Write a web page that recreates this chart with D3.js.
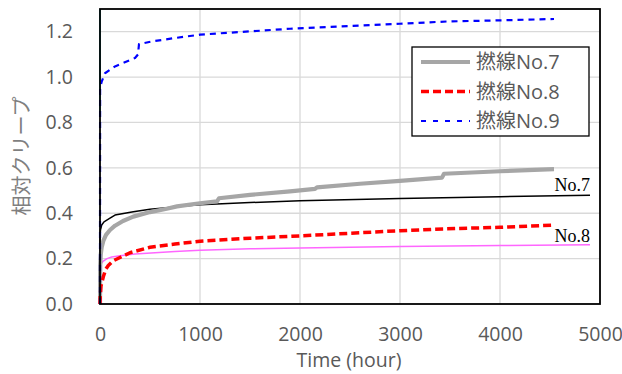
<!DOCTYPE html>
<html>
<head>
<meta charset="utf-8">
<script src="https://cdn.jsdelivr.net/npm/d3@7"></script>
<style>
  html, body { margin: 0; padding: 0; background: #fff; }
  svg { display: block; }
</style>
</head>
<body>
<svg id="chart" width="622" height="374"></svg>
<script>
// Measured creep curves and fitted curves (time in hours, relative creep)
const timeNo7 = [0, 2, 8, 17, 33, 60, 100, 150, 230, 333, 500, 667, 770, 1000, 1170, 1190, 1500, 1900, 2150, 2170, 2600, 3000, 3420, 3440, 4000, 4540];
const creepNo7 = [0, 0.17, 0.22, 0.25, 0.278, 0.305, 0.326, 0.345, 0.366, 0.385, 0.405, 0.42, 0.43, 0.444, 0.452, 0.466, 0.481, 0.496, 0.507, 0.514, 0.53, 0.543, 0.557, 0.574, 0.585, 0.594];

const timeNo8 = [0, 2, 10, 33, 60, 83, 130, 200, 300, 500, 750, 1000, 1500, 1900, 3000, 3430, 4000, 4540];
const creepNo8 = [0, 0.03, 0.08, 0.12, 0.155, 0.17, 0.19, 0.205, 0.226, 0.25, 0.264, 0.277, 0.29, 0.298, 0.323, 0.331, 0.338, 0.348];

const timeNo9 = [0, 1, 17, 50, 150, 350, 380, 390, 517, 750, 1000, 1900, 3000, 3467, 4000, 4540];
const creepNo9 = [0, 0.95, 0.98, 1.017, 1.047, 1.084, 1.1, 1.145, 1.157, 1.172, 1.187, 1.213, 1.235, 1.245, 1.25, 1.256];

const fitTimeNo7 = [0, 0.01, 0.3, 1, 5, 17, 40, 100, 150, 333, 500, 750, 1000, 1500, 2000, 3000, 4000, 4900];
const fitCreepNo7 = [0, 0.23, 0.28, 0.3, 0.327, 0.348, 0.362, 0.378, 0.392, 0.407, 0.418, 0.428, 0.437, 0.447, 0.455, 0.465, 0.473, 0.479];

const fitTimeNo8 = [0, 1, 5, 15, 33, 70, 117, 200, 350, 750, 1000, 1500, 2000, 3000, 4000, 4900];
const fitCreepNo8 = [0.12, 0.15, 0.167, 0.18, 0.189, 0.2, 0.207, 0.213, 0.22, 0.231, 0.237, 0.243, 0.247, 0.253, 0.258, 0.261];

const fitTimeNo9 = [0, 0.3];
const fitCreepNo9 = [0.84, 1.4];

const xTicks = [0, 1000, 2000, 3000, 4000, 5000];
const yTicks = [0, 0.2, 0.4, 0.6, 0.8, 1.0, 1.2];
const legendLabels = ["撚線No.7", "撚線No.8", "撚線No.9"];

const svg = d3.select("#chart");
const margin = { left: 100, right: 22, top: 9, bottom: 70 };
const W = 622, H = 374;
const x = d3.scaleLinear().domain([0, 5000]).range([margin.left, W - margin.right]);
const y = d3.scaleLinear().domain([0, 1.3]).range([H - margin.bottom, margin.top]);

const fontSans = "'Open Sans', 'Noto Sans CJK JP', sans-serif";

// grid
const grid = svg.append("g");
grid.selectAll(".gx").data(xTicks.slice(1, -1)).enter().append("line")
  .attr("x1", d => x(d)).attr("x2", d => x(d))
  .attr("y1", y(0)).attr("y2", y(1.3))
  .attr("stroke", "#d9d9d9").attr("stroke-width", 1.3);
grid.selectAll(".gy").data(yTicks.slice(1)).enter().append("line")
  .attr("x1", x(0)).attr("x2", x(5000))
  .attr("y1", d => y(d)).attr("y2", d => y(d))
  .attr("stroke", "#d9d9d9").attr("stroke-width", 1.3);

// axes tick labels
const xAxis = d3.axisBottom(x).tickValues(xTicks).tickSize(0).tickPadding(23).tickFormat(d3.format("d"));
const gx = svg.append("g").attr("transform", `translate(0,${y(0)})`).call(xAxis);
gx.select(".domain").remove();
gx.selectAll("text").attr("fill", "#595959").style("font-size", "19.5px").style("font-family", fontSans);

const yAxis = d3.axisLeft(y).tickValues(yTicks).tickSize(0).tickPadding(27).tickFormat(d3.format(".1f"));
const gy = svg.append("g").attr("transform", `translate(${x(0)},0)`).call(yAxis);
gy.select(".domain").remove();
gy.selectAll("text").attr("fill", "#595959").style("font-size", "19.5px").style("font-family", fontSans);

// axis titles
svg.append("text").attr("x", 349).attr("y", 367).attr("text-anchor", "middle")
  .attr("fill", "#595959").style("font-size", "19.5px").style("font-family", fontSans)
  .text("Time (hour)");
svg.append("text")
  .attr("transform", `translate(29,${156}) rotate(-90)`)
  .attr("text-anchor", "middle")
  .attr("fill", "#7f7f7f").style("font-size", "20px")
  .style("font-family", "'Noto Sans CJK JP', sans-serif")
  .text("相対クリープ");

// clip to plot area
svg.append("clipPath").attr("id", "plotClip").append("rect")
  .attr("x", x(0) - 2).attr("y", y(1.3)).attr("width", x(5000) - x(0) + 2).attr("height", y(0) - y(1.3));

const plot = svg.append("g").attr("clip-path", "url(#plotClip)");
const line = d3.line().x(d => x(d[0])).y(d => y(d[1]));
const zip = (a, b) => a.map((t, i) => [t, b[i]]);

const series = [
  { t: fitTimeNo9, v: fitCreepNo9, color: "#00c0c0", width: 1.5, dash: null },
  { t: fitTimeNo8, v: fitCreepNo8, color: "#ff66ff", width: 1.5, dash: null },
  { t: fitTimeNo7, v: fitCreepNo7, color: "#000000", width: 1.5, dash: null },
  { t: timeNo7, v: creepNo7, color: "#a6a6a6", width: 4.2, dash: null },
  { t: timeNo8, v: creepNo8, color: "#ff0000", width: 3.5, dash: "8,4" },
  { t: timeNo9, v: creepNo9, color: "#0000ff", width: 2.2, dash: "6,5" }
];
series.forEach(s => {
  plot.append("path").datum(zip(s.t, s.v))
    .attr("d", line).attr("fill", "none")
    .attr("stroke", s.color).attr("stroke-width", s.width)
    .attr("stroke-dasharray", s.dash)
    .attr("stroke-linejoin", "round");
});

// plot border
svg.append("rect").attr("x", x(0)).attr("y", y(1.3))
  .attr("width", x(5000) - x(0)).attr("height", y(0) - y(1.3))
  .attr("fill", "none").attr("stroke", "#000").attr("stroke-width", 1.8);

// curve annotations
const fontSerif = "'Times New Roman', 'Liberation Serif', serif";
svg.append("text").attr("x", x(4900)).attr("y", y(fitCreepNo7[fitCreepNo7.length - 1]) - 4)
  .attr("text-anchor", "end").attr("fill", "#000").style("font-size", "18px").style("font-family", fontSerif)
  .text("No.7");
svg.append("text").attr("x", x(4900)).attr("y", y(fitCreepNo8[fitCreepNo8.length - 1]) - 3)
  .attr("text-anchor", "end").attr("fill", "#000").style("font-size", "18px").style("font-family", fontSerif)
  .text("No.8");

// legend
const lg = svg.append("g");
lg.append("rect").attr("x", 412).attr("y", 47).attr("width", 177).attr("height", 89)
  .attr("fill", "#fff").attr("stroke", "#000").attr("stroke-width", 1.3);
const legendStyles = [series[3], series[4], { color: "#0000ff", width: 2.2, dash: "5,7" }];
legendLabels.forEach((lab, i) => {
  const cy = 62 + i * 29.5;
  lg.append("line").attr("x1", 421).attr("x2", 470).attr("y1", cy).attr("y2", cy)
    .attr("stroke", legendStyles[i].color).attr("stroke-width", legendStyles[i].width)
    .attr("stroke-dasharray", legendStyles[i].dash);
  lg.append("text").attr("x", 476).attr("y", cy + 7)
    .attr("fill", "#595959").style("font-size", "20px")
    .style("font-family", fontSans)
    .text(lab);
});
</script>
</body>
</html>
